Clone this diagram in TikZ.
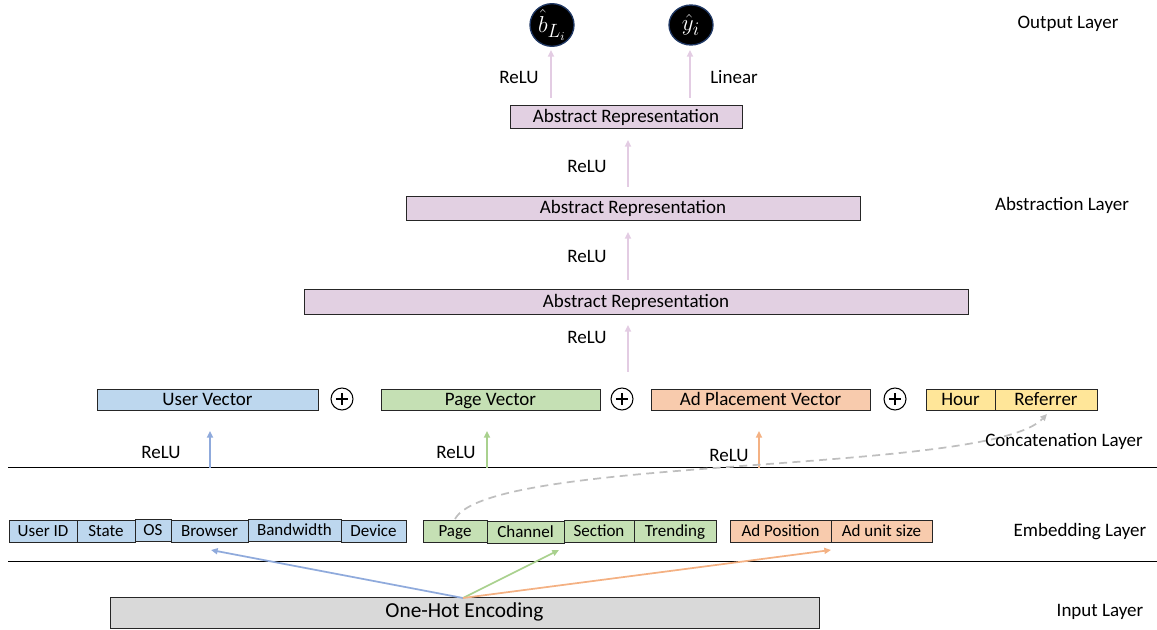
\documentclass[tikz,border=0pt]{standalone}
\usepackage{fontspec}
\setmainfont{Carlito}
\usetikzlibrary{arrows.meta,shapes.geometric}

\definecolor{userfill}{HTML}{BDD7EE}
\definecolor{userline}{HTML}{8FAADC}
\definecolor{pagefill}{HTML}{C5E0B4}
\definecolor{pageline}{HTML}{A9D18E}
\definecolor{adfill}{HTML}{F8CBAD}
\definecolor{adline}{HTML}{F4B183}
\definecolor{ctxfill}{HTML}{FFE699}
\definecolor{absfill}{HTML}{E2D0E2}
\definecolor{absline}{HTML}{E3CCE3}
\definecolor{onehot}{HTML}{D9D9D9}
\definecolor{dashgray}{HTML}{BFBFBF}
\definecolor{outline}{HTML}{203864}

\tikzset{
  sz/.style 2 args={minimum width=#1*0.75pt, minimum height=#2*0.75pt},
  cell/.style={draw=black!85, line width=0.75pt, inner sep=0pt,
    text height=0.72em, text depth=0em,
    font=\fontsize{12.75}{14}\selectfont},
  bar/.style={draw=black!85, line width=0.75pt, inner sep=0pt,
    text height=0.72em, text depth=0em,
    font=\fontsize{14.25}{16}\selectfont},
  plus/.style={draw=black, line width=0.8pt, circle, inner sep=0pt,
    minimum size=16.5pt,
    path picture={\draw[line width=1.3pt]
      ([xshift=-4.6pt]path picture bounding box.center) --
      ([xshift=4.6pt]path picture bounding box.center)
      ([yshift=-4.6pt]path picture bounding box.center) --
      ([yshift=4.6pt]path picture bounding box.center);}},
  outnode/.style={ellipse, fill=black, draw=outline, line width=1pt,
    minimum width=33pt, minimum height=30pt, inner sep=0pt,
    text=white, font=\fontsize{19}{21}\selectfont},
  lbl/.style={font=\fontsize{14.25}{16}\selectfont, inner sep=0pt},
  arr/.style={line width=1.5pt, -{Triangle[length=5pt,width=4.5pt]}},
  sep/.style={line width=0.75pt, black},
}

\begin{document}
\begin{tikzpicture}[x=0.75pt, y=-0.75pt]
\useasboundingbox (0,0) rectangle (1157,630);

% layer separators
\draw[sep] (8,468) -- (1157,468);
\draw[sep] (8,562) -- (1157,562);

% output layer
\node[outnode] (bL) at (552,25) {$\hat{b}_{L_i}$};
\node[outnode] (yh) at (691,25) {$\hat{y}_i$};

% abstraction layer
\node[bar, fill=absfill, sz={232}{23}] (abs1) at (626,117.5) {Abstract Representation};
\node[bar, fill=absfill, sz={454}{24}] (abs2) at (633,209) {Abstract Representation};
\node[bar, fill=absfill, sz={664}{25}] (abs3) at (636,302.5) {Abstract Representation};

% concatenation layer
\node[bar, fill=userfill, sz={221}{21}] (uv) at (207.5,400.5) {User Vector};
\node[plus] (p1) at (342,399) {};
\node[bar, fill=pagefill, sz={219}{21}] (pv) at (490.5,400.5) {Page Vector};
\node[plus] (p2) at (622,399) {};
\node[bar, fill=adfill, sz={219}{21}] (av) at (760.5,400.5) {Ad Placement Vector};
\node[plus] (p3) at (895,399) {};
\node[bar, fill=ctxfill, sz={69}{21}] (hour) at (960.5,400.5) {Hour};
\node[bar, fill=ctxfill, sz={102}{21}] (ref) at (1046,400.5) {Referrer};

% embedding layer
\node[cell, fill=userfill, sz={68}{22}] (uid) at (43,532) {User ID};
\node[cell, fill=userfill, sz={58}{22}] (state) at (106,532) {State};
\node[cell, fill=userfill, sz={36}{22}] (os) at (153,530.5) {OS};
\node[cell, fill=userfill, sz={77}{22}] (brow) at (209.5,532) {Browser};
\node[cell, fill=userfill, sz={93}{22}] (bw) at (294.5,530.5) {Bandwidth};
\node[cell, fill=userfill, sz={65}{22}] (dev) at (373.5,532) {Device};

\node[cell, fill=pagefill, sz={64}{22}] (page) at (455,532) {Page};
\node[cell, fill=pagefill, sz={77}{22}] (chan) at (525.5,532.5) {Channel};
\node[cell, fill=pagefill, sz={70}{22}] (sect) at (599,532) {Section};
\node[cell, fill=pagefill, sz={82}{22}] (trend) at (675,532) {Trending};

\node[cell, fill=adfill, sz={101}{22}] (adpos) at (780.5,532) {Ad Position};
\node[cell, fill=adfill, sz={101}{22}] (adsize) at (881.5,532) {Ad unit size};

% input layer
\node[bar, fill=onehot, sz={709}{30}, font=\fontsize{16}{18}\selectfont] (hot) at (464.5,613) {One-Hot Encoding};

% arrow end points
\coordinate (hotTop) at (463,598);
\coordinate (browIn) at (211,550);
\coordinate (pageIn) at (559,550);
\coordinate (adIn) at (831,550);

\coordinate (uvS) at (210,468);  \coordinate (uvE) at (210,431);
\coordinate (pvS) at (487,468);  \coordinate (pvE) at (487,431);
\coordinate (avS) at (759,468);  \coordinate (avE) at (759,431);

\coordinate (c3S) at (628,372);  \coordinate (c3E) at (628,325);
\coordinate (c2S) at (628,280);  \coordinate (c2E) at (628,232);
\coordinate (c1S) at (628,187);  \coordinate (c1E) at (628,140);
\coordinate (oLS) at (551,98);   \coordinate (oLE) at (551,50);
\coordinate (oYS) at (690,98);   \coordinate (oYE) at (690,50);

\coordinate (dashS) at (455,519);
\coordinate (dashE) at (1047,414);

% one-hot encoding to embeddings
\draw[arr, userline, line width=1.3pt] (hotTop) -- (browIn);
\draw[arr, pageline, line width=1.3pt] (hotTop) -- (pageIn);
\draw[arr, adline, line width=1.3pt] (hotTop) -- (adIn);

% embeddings to vectors
\draw[arr, userline] (uvS) -- (uvE);
\draw[arr, pageline] (pvS) -- (pvE);
\draw[arr, adline] (avS) -- (avE);

% context features passed straight through
\draw[dashgray, line width=1.3pt, dash pattern=on 6pt off 4pt,
  -{Triangle[length=5pt,width=4.5pt]}]
  (dashS) .. controls (490,455) and (990,475) .. (dashE);

% abstraction stack
\draw[arr, absline] (c3S) -- (c3E);
\draw[arr, absline] (c2S) -- (c2E);
\draw[arr, absline] (c1S) -- (c1E);
\draw[arr, absline] (oLS) -- (oLE);
\draw[arr, absline] (oYS) -- (oYE);

% activation labels
\node[lbl] at (161,452) {ReLU};
\node[lbl] at (456,452) {ReLU};
\node[lbl] at (729,455) {ReLU};
\node[lbl] at (587,337) {ReLU};
\node[lbl] at (587,256) {ReLU};
\node[lbl] at (587,166) {ReLU};
\node[lbl] at (519,77) {ReLU};
\node[lbl] at (734,77) {Linear};

% layer names
\node[lbl] at (1068,24) {Output Layer};
\node[lbl] at (1062,205) {Abstraction Layer};
\node[lbl] at (1064,441) {Concatenation Layer};
\node[lbl] at (1080,532) {Embedding Layer};
\node[lbl] at (1100,612) {Input Layer};
\end{tikzpicture}
\end{document}
